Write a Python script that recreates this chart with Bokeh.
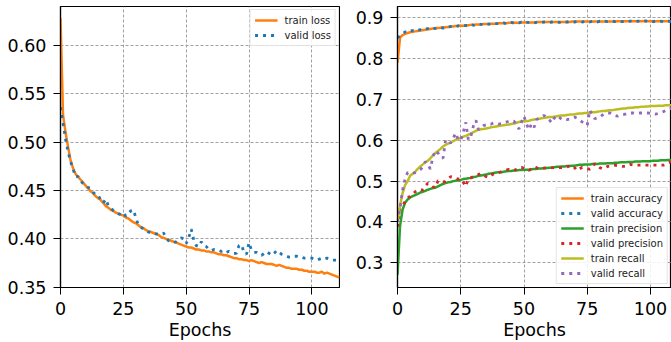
from bokeh.plotting import figure
from bokeh.layouts import row
from bokeh.models import Range1d, FixedTicker, NumeralTickFormatter
from bokeh.embed import file_html
from bokeh.resources import INLINE

epochs = list(range(112))
x_ticks = [0, 25, 50, 75, 100]
loss_ticks = [0.35, 0.40, 0.45, 0.50, 0.55, 0.60]
metric_ticks = [0.3, 0.4, 0.5, 0.6, 0.7, 0.8, 0.9]

train_loss = [0.628, 0.528, 0.510, 0.495, 0.481, 0.473, 0.467, 0.464, 0.461, 0.458,
              0.455, 0.452, 0.449, 0.447, 0.444, 0.442, 0.440, 0.437, 0.434, 0.432,
              0.430, 0.429, 0.427, 0.426, 0.425, 0.424, 0.422, 0.421, 0.419, 0.417,
              0.416, 0.414, 0.412, 0.411, 0.409, 0.408, 0.407, 0.406, 0.405, 0.404,
              0.402, 0.401, 0.400, 0.399, 0.398, 0.397, 0.396, 0.395, 0.394, 0.393,
              0.392, 0.391, 0.391, 0.390, 0.389, 0.389, 0.388, 0.388, 0.387, 0.387,
              0.386, 0.386, 0.385, 0.384, 0.384, 0.383, 0.383, 0.382, 0.381, 0.380,
              0.380, 0.379, 0.379, 0.378, 0.378, 0.377, 0.378, 0.377, 0.376, 0.375,
              0.376, 0.375, 0.374, 0.374, 0.374, 0.373, 0.372, 0.373, 0.372, 0.371,
              0.370, 0.370, 0.369, 0.369, 0.369, 0.368, 0.368, 0.367, 0.367, 0.366,
              0.366, 0.366, 0.365, 0.365, 0.366, 0.364, 0.365, 0.364, 0.363, 0.362,
              0.361, 0.360]
valid_loss = [0.536, 0.520, 0.503, 0.490, 0.480, 0.472, 0.464, 0.4645, 0.460, 0.457,
              0.455, 0.453, 0.452, 0.448, 0.4455, 0.445, 0.440, 0.437, 0.441, 0.4345,
              0.432, 0.429, 0.4276, 0.426, 0.425, 0.427, 0.4234, 0.426, 0.429, 0.430,
              0.4217, 0.4138, 0.412, 0.410, 0.409, 0.407, 0.406, 0.406, 0.405, 0.405,
              0.405, 0.406, 0.401, 0.398, 0.397, 0.396, 0.397, 0.399, 0.401, 0.400,
              0.395, 0.401, 0.410, 0.399, 0.393, 0.392, 0.397, 0.393, 0.392, 0.389,
              0.388, 0.389, 0.389, 0.388, 0.387, 0.388, 0.386, 0.387, 0.386, 0.385,
              0.385, 0.393, 0.394, 0.386, 0.384, 0.396, 0.388, 0.386, 0.386, 0.384,
              0.383, 0.385, 0.387, 0.385, 0.383, 0.385, 0.388, 0.386, 0.384, 0.383,
              0.382, 0.381, 0.381, 0.382, 0.382, 0.381, 0.381, 0.380, 0.380, 0.380,
              0.380, 0.379, 0.378, 0.379, 0.380, 0.379, 0.380, 0.379, 0.378, 0.378,
              0.378, 0.377]

train_acc = [0.790, 0.852, 0.858, 0.861, 0.863, 0.865, 0.866, 0.867, 0.868, 0.869,
             0.870, 0.871, 0.872, 0.873, 0.874, 0.875, 0.875, 0.876, 0.877, 0.877,
             0.878, 0.879, 0.879, 0.880, 0.880, 0.881, 0.881, 0.882, 0.882, 0.883,
             0.883, 0.884, 0.884, 0.884, 0.885, 0.885, 0.885, 0.886, 0.886, 0.886,
             0.887, 0.887, 0.887, 0.887, 0.888, 0.888, 0.888, 0.888, 0.888, 0.889,
             0.889, 0.889, 0.889, 0.889, 0.889, 0.890, 0.890, 0.890, 0.890, 0.890,
             0.890, 0.890, 0.890, 0.890, 0.890, 0.890, 0.890, 0.890, 0.890, 0.891,
             0.891, 0.891, 0.891, 0.891, 0.891, 0.891, 0.891, 0.891, 0.891, 0.891,
             0.891, 0.891, 0.891, 0.891, 0.891, 0.891, 0.891, 0.892, 0.892, 0.892,
             0.892, 0.892, 0.892, 0.892, 0.892, 0.892, 0.892, 0.892, 0.892, 0.892,
             0.892, 0.892, 0.892, 0.892, 0.892, 0.892, 0.892, 0.892, 0.892, 0.892,
             0.892, 0.892]
valid_acc = [0.851, 0.856, 0.860, 0.866, 0.864, 0.868, 0.869, 0.867, 0.870, 0.871,
             0.870, 0.873, 0.874, 0.872, 0.875, 0.874, 0.876, 0.877, 0.875, 0.878,
             0.877, 0.879, 0.880, 0.878, 0.881, 0.880, 0.882, 0.881, 0.882, 0.884,
             0.882, 0.883, 0.885, 0.884, 0.884, 0.886, 0.885, 0.885, 0.887, 0.886,
             0.886, 0.887, 0.888, 0.886, 0.888, 0.889, 0.887, 0.889, 0.888, 0.890,
             0.888, 0.889, 0.889, 0.890, 0.888, 0.889, 0.890, 0.889, 0.890, 0.891,
             0.889, 0.890, 0.891, 0.890, 0.889, 0.891, 0.890, 0.890, 0.891, 0.891,
             0.890, 0.891, 0.892, 0.890, 0.891, 0.891, 0.890, 0.892, 0.891, 0.890,
             0.892, 0.891, 0.892, 0.891, 0.891, 0.892, 0.891, 0.892, 0.892, 0.891,
             0.892, 0.891, 0.892, 0.893, 0.891, 0.892, 0.892, 0.891, 0.893, 0.892,
             0.892, 0.891, 0.892, 0.893, 0.892, 0.891, 0.892, 0.892, 0.891, 0.892,
             0.892, 0.891]
train_prec = [0.270, 0.390, 0.430, 0.447, 0.455, 0.460, 0.463, 0.466, 0.469, 0.472,
              0.474, 0.476, 0.479, 0.481, 0.483, 0.484, 0.487, 0.490, 0.493, 0.495,
              0.497, 0.498, 0.500, 0.501, 0.502, 0.503, 0.505, 0.506, 0.507, 0.508,
              0.510, 0.511, 0.513, 0.514, 0.515, 0.516, 0.518, 0.519, 0.520, 0.521,
              0.522, 0.522, 0.523, 0.524, 0.525, 0.525, 0.526, 0.526, 0.527, 0.527,
              0.528, 0.528, 0.528, 0.529, 0.530, 0.530, 0.531, 0.531, 0.532, 0.532,
              0.533, 0.533, 0.534, 0.535, 0.535, 0.536, 0.536, 0.537, 0.537, 0.538,
              0.538, 0.539, 0.540, 0.540, 0.541, 0.541, 0.541, 0.542, 0.542, 0.542,
              0.543, 0.543, 0.543, 0.544, 0.544, 0.544, 0.545, 0.545, 0.546, 0.546,
              0.546, 0.547, 0.547, 0.547, 0.548, 0.548, 0.548, 0.549, 0.549, 0.549,
              0.549, 0.550, 0.550, 0.550, 0.551, 0.551, 0.551, 0.552, 0.552, 0.552,
              0.553, 0.553]
valid_prec = [0.388, 0.433, 0.440, 0.450, 0.460, 0.462, 0.468, 0.474, 0.477, 0.480,
              0.478, 0.488, 0.495, 0.492, 0.486, 0.484, 0.501, 0.500, 0.498, 0.499,
              0.505, 0.511, 0.510, 0.507, 0.505, 0.506, 0.497, 0.487, 0.507, 0.508,
              0.511, 0.513, 0.516, 0.519, 0.515, 0.511, 0.509, 0.514, 0.518, 0.519,
              0.521, 0.523, 0.525, 0.527, 0.529, 0.527, 0.526, 0.529, 0.532, 0.534,
              0.531, 0.528, 0.526, 0.531, 0.535, 0.533, 0.530, 0.531, 0.532, 0.532,
              0.532, 0.533, 0.533, 0.533, 0.533, 0.533, 0.533, 0.535, 0.537, 0.539,
              0.533, 0.526, 0.530, 0.534, 0.533, 0.531, 0.529, 0.535, 0.543, 0.538,
              0.533, 0.530, 0.533, 0.536, 0.536, 0.538, 0.539, 0.538, 0.537, 0.536,
              0.536, 0.539, 0.541, 0.540, 0.539, 0.539, 0.539, 0.539, 0.539, 0.539,
              0.539, 0.539, 0.539, 0.539, 0.539, 0.539, 0.541, 0.545, 0.547, 0.546,
              0.545, 0.546]
train_rec = [0.400, 0.440, 0.470, 0.490, 0.500, 0.513, 0.518, 0.523, 0.530, 0.536,
             0.541, 0.546, 0.550, 0.556, 0.563, 0.569, 0.574, 0.579, 0.585, 0.589,
             0.592, 0.595, 0.598, 0.601, 0.604, 0.606, 0.609, 0.611, 0.614, 0.617,
             0.620, 0.623, 0.626, 0.627, 0.628, 0.629, 0.630, 0.632, 0.633, 0.634,
             0.635, 0.636, 0.637, 0.638, 0.639, 0.640, 0.641, 0.643, 0.645, 0.646,
             0.647, 0.647, 0.648, 0.650, 0.651, 0.652, 0.653, 0.654, 0.655, 0.656,
             0.657, 0.657, 0.658, 0.659, 0.660, 0.661, 0.661, 0.662, 0.663, 0.663,
             0.664, 0.665, 0.666, 0.666, 0.667, 0.667, 0.668, 0.669, 0.669, 0.670,
             0.671, 0.672, 0.672, 0.673, 0.674, 0.674, 0.675, 0.676, 0.677, 0.678,
             0.678, 0.679, 0.680, 0.680, 0.681, 0.681, 0.682, 0.682, 0.683, 0.683,
             0.684, 0.684, 0.684, 0.685, 0.685, 0.685, 0.686, 0.686, 0.686, 0.687,
             0.687, 0.688]
valid_rec = [0.400, 0.433, 0.478, 0.505, 0.521, 0.520, 0.519, 0.521, 0.524, 0.528,
             0.535, 0.548, 0.540, 0.530, 0.560, 0.575, 0.569, 0.560, 0.556, 0.601,
             0.597, 0.593, 0.605, 0.618, 0.601, 0.600, 0.620, 0.644, 0.601, 0.610,
             0.635, 0.649, 0.626, 0.630, 0.636, 0.638, 0.641, 0.640, 0.643, 0.642,
             0.640, 0.641, 0.643, 0.645, 0.647, 0.646, 0.647, 0.638, 0.628, 0.645,
             0.659, 0.640, 0.626, 0.641, 0.632, 0.651, 0.655, 0.658, 0.661, 0.655,
             0.650, 0.643, 0.655, 0.661, 0.656, 0.651, 0.652, 0.651, 0.652, 0.655,
             0.657, 0.654, 0.650, 0.645, 0.640, 0.637, 0.674, 0.662, 0.653, 0.655,
             0.657, 0.662, 0.666, 0.667, 0.667, 0.664, 0.661, 0.659, 0.661, 0.663,
             0.664, 0.666, 0.667, 0.667, 0.666, 0.666, 0.667, 0.667, 0.667, 0.667,
             0.666, 0.665, 0.664, 0.666, 0.668, 0.670, 0.673, 0.676, 0.678, 0.679,
             0.680, 0.681]

FONT = "DejaVu Sans"
ORANGE, BLUE, GREEN, RED, OLIVE, PURPLE = "#ff7f0e", "#1f77b4", "#2ca02c", "#d62728", "#bcbd22", "#9467bd"


def make_fig(width, yr, xr_end, yticks, fmt, border_left, border_right):
    p = figure(width=width, height=342, output_backend="svg", toolbar_location=None,
               x_range=Range1d(0, xr_end), y_range=Range1d(*yr),
               min_border_left=border_left, min_border_right=border_right,
               min_border_top=6, min_border_bottom=55)
    p.background_fill_color = "white"
    p.border_fill_color = "white"
    p.outline_line_color = "black"
    p.outline_line_width = 1.2
    p.xaxis.ticker = FixedTicker(ticks=x_ticks)
    p.yaxis.ticker = FixedTicker(ticks=yticks)
    p.yaxis.formatter = NumeralTickFormatter(format=fmt)
    for ax in (p.xaxis[0], p.yaxis[0]):
        ax.axis_line_color = "black"
        ax.axis_line_width = 1.2
        ax.major_tick_out = 7
        ax.major_tick_in = 0
        ax.minor_tick_out = 0
        ax.minor_tick_in = 0
        ax.major_tick_line_color = "black"
        ax.major_label_text_font = FONT
        ax.major_label_text_font_size = "17.5px"
        ax.major_label_text_color = "black"
        ax.major_label_standoff = 7
    p.xaxis.axis_label = "Epochs"
    p.xaxis.axis_label_text_font = FONT
    p.xaxis.axis_label_text_font_size = "17.5px"
    p.xaxis.axis_label_text_font_style = "normal"
    p.xaxis.axis_label_text_color = "black"
    p.xaxis.axis_label_standoff = 2
    p.grid.grid_line_color = "#a0a0a0"
    p.grid.grid_line_dash = "3 2"
    p.grid.grid_line_width = 1
    return p


def style_legend(p, loc):
    lg = p.legend[0]
    lg.location = loc
    lg.label_text_font = FONT
    lg.label_text_font_size = "10px"
    lg.label_text_color = "#222222"
    lg.glyph_width = 23
    lg.glyph_height = 12
    lg.spacing = 3
    lg.padding = 4
    lg.margin = 3
    lg.label_standoff = 7
    lg.border_line_color = "#cccccc"
    lg.border_line_width = 1
    lg.background_fill_alpha = 0.85


left = make_fig(340, (0.3497, 0.64), 111, loss_ticks, "0.00", 60, 1)
left.line(epochs, train_loss, color=ORANGE, line_width=2.5, legend_label="train loss")
left.line(epochs, valid_loss, color=BLUE, line_width=2.8, line_dash="3 5", legend_label="valid loss")
style_legend(left, "top_right")

right = make_fig(331, (0.2393, 0.928), 108.3, metric_ticks, "0.0", 57, 0)
right.line(epochs, train_acc, color=ORANGE, line_width=2.5, legend_label="train accuracy")
right.line(epochs, valid_acc, color=BLUE, line_width=2.8, line_dash="3 5", legend_label="valid accuracy")
right.line(epochs, train_prec, color=GREEN, line_width=2.5, legend_label="train precision")
right.line(epochs, valid_prec, color=RED, line_width=2.8, line_dash="3 5", legend_label="valid precision")
right.line(epochs, train_rec, color=OLIVE, line_width=2.5, legend_label="train recall")
right.line(epochs, valid_rec, color=PURPLE, line_width=2.8, line_dash="3 5", legend_label="valid recall")
style_legend(right, "bottom_right")

layout = row(left, right)
open("out.html", "w").write(file_html(layout, INLINE))
